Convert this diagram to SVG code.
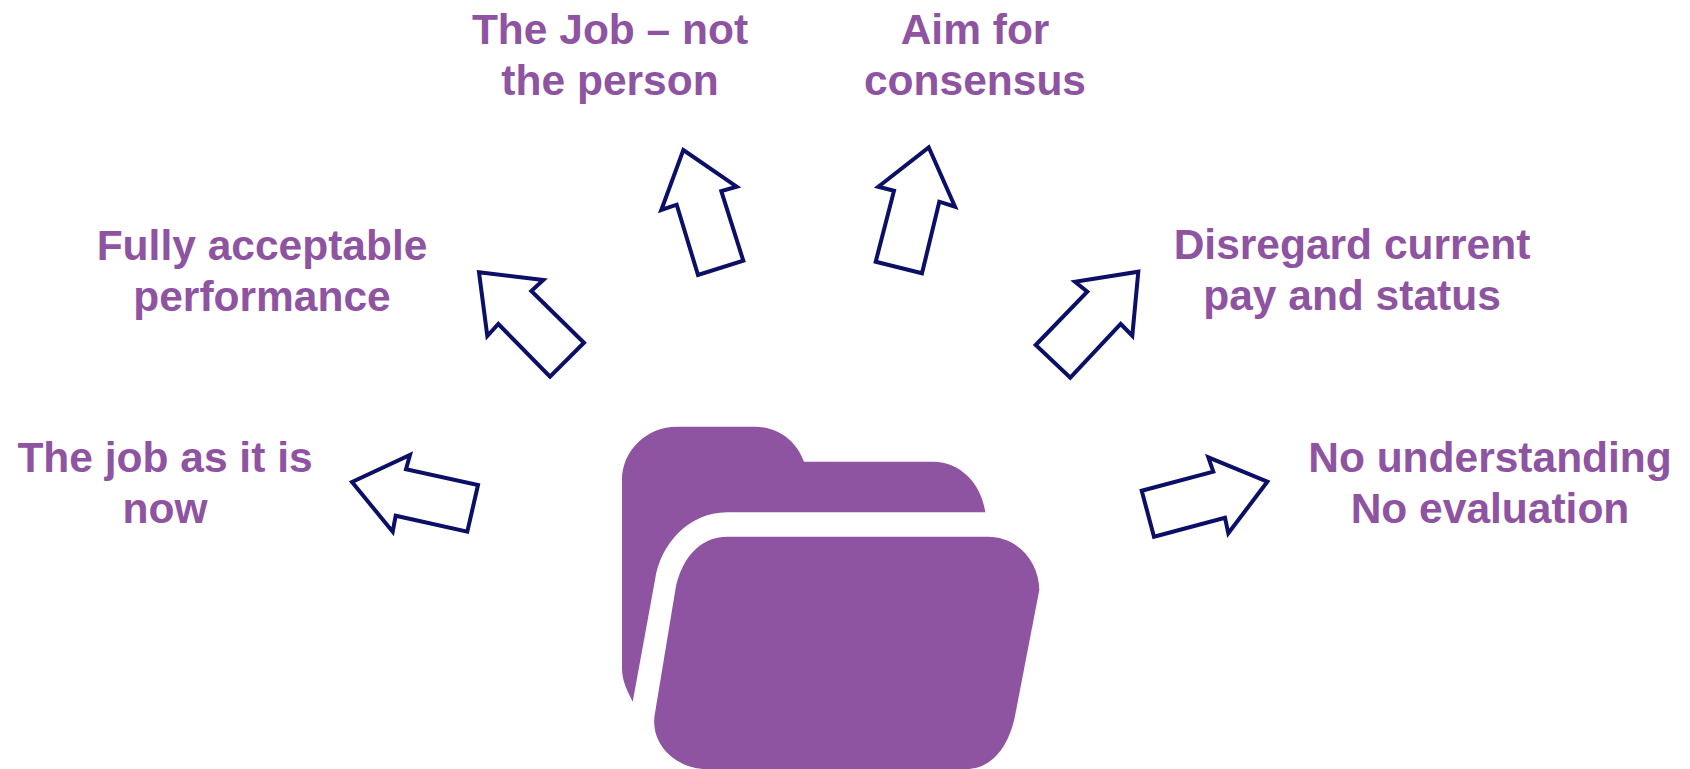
<svg xmlns="http://www.w3.org/2000/svg" width="1690" height="769" viewBox="0 0 1690 769">
<style>
text{font-family:"Liberation Sans",Arial,sans-serif;font-weight:700;font-size:42.500px;fill:#8e54a1;text-anchor:middle}
.a{fill:#fff;stroke:#0c0f66;stroke-width:4;stroke-miterlimit:10}
.f{fill:#8e54a1}
</style>
<rect width="1690" height="769" fill="#fff"/>
<g id="folder">
<path class="f" d="M622 480C622 450 647 426.700 677 426.700H755C778 426.700 796 440 804 461.700H933C962 461.700 982 486 985.300 512.300H727C688 512.300 660 545 655 580L632.700 701.700C628 692 622 682 622 668Z"/>
<path class="f" d="M728 536.700H988C1018 536.700 1039 562 1039.300 590L1015 716C1009 745 993 769 966 769H703C675 767 651 745 654.500 716L676 586C682 560 698 536.700 728 536.700Z"/>
</g>
<g id="connectors">
<polygon class="a" points="352,482 410,455 406,469.300 478,485 467.300,531.700 395.700,515.700 392.700,531.700"/>
<polygon class="a" points="479,272.300 543.300,280 531.300,291 584,342.700 550,376.700 498.300,324 487.300,336"/>
<polygon class="a" points="683.300,150 736.700,186.700 721.300,191 743.300,260.700 698,275 676.700,204.700 661.300,210"/>
<polygon class="a" points="928.700,147.300 955,206.700 939.300,201.700 922,273.300 875.700,261.700 894,190.700 878.300,186.700"/>
<polygon class="a" points="1138.300,271.700 1132.300,335.700 1120.700,324 1070.300,377.700 1035.700,345 1087.300,291.700 1075,281.700"/>
<polygon class="a" points="1267.300,481.700 1228.300,533.300 1225,517.700 1154,536.700 1141.700,490.700 1213.300,471.700 1208.300,457.300"/>
</g>
<g id="label-job-now"><text x="165" y="471.500">The job as it is</text><text x="165" y="522.500">now</text></g>
<g id="label-acceptable"><text x="262" y="260">Fully acceptable</text><text x="262" y="311">performance</text></g>
<g id="label-job-person"><text x="610" y="43.500">The Job – not</text><text x="610" y="94.500">the person</text></g>
<g id="label-consensus"><text x="975" y="43.500">Aim for</text><text x="975" y="94.500">consensus</text></g>
<g id="label-disregard"><text x="1352" y="259">Disregard current</text><text x="1352" y="310">pay and status</text></g>
<g id="label-understanding"><text x="1490" y="471.500">No understanding</text><text x="1490" y="522.500">No evaluation</text></g>
</svg>
